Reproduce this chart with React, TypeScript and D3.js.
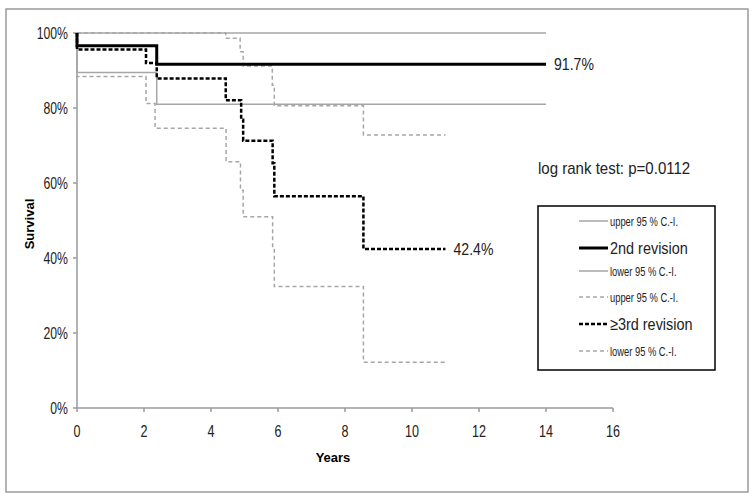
import React from "react";
import * as d3 from "d3";

const xTicks = [0, 2, 4, 6, 8, 10, 12, 14, 16];
const yTicks = [0, 20, 40, 60, 80, 100];

const rev2Times = [0, 2.38];
const rev2Surv = [96.6, 91.7];
const rev2End = 14;
const rev2UpperTimes = [0];
const rev2UpperSurv = [100];
const rev2LowerTimes = [0, 2.38];
const rev2LowerSurv = [89.5, 81.0];

const rev3Times = [0, 2.06, 2.38, 4.44, 4.9, 4.96, 5.84, 5.89, 8.55];
const rev3Surv = [95.6, 92.0, 87.9, 82.1, 76.9, 71.3, 65.3, 56.5, 42.4];
const rev3End = 11;
const rev3UpperTimes = [0, 4.44, 4.87, 4.96, 5.83, 5.89, 8.55];
const rev3UpperSurv = [100, 98.6, 95.0, 91.2, 86.1, 80.6, 72.8];
const rev3LowerTimes = [0, 2.06, 2.33, 4.45, 4.88, 4.96, 5.84, 5.89, 8.55];
const rev3LowerSurv = [88.4, 81.2, 74.6, 65.7, 58.1, 51.0, 42.6, 32.4, 12.2];

const legendLabels = [
  "upper 95 % C.-I.",
  "2nd revision",
  "lower 95 % C.-I.",
  "upper 95 % C.-I.",
  "\u22653rd revision",
  "lower 95 % C.-I.",
];

const sans = "'Liberation Sans', Arial, sans-serif";

function NText(props: {
  x: number;
  y: number;
  size: number;
  sx: number;
  anchor?: string;
  children: React.ReactNode;
}) {
  return (
    <text
      transform={`translate(${props.x},${props.y}) scale(${props.sx},1)`}
      dy="0.35em"
      textAnchor={props.anchor || "start"}
      fontSize={props.size}
      fontFamily={sans}
      fill="#222"
    >
      {props.children}
    </text>
  );
}

export default function App() {
  const x = d3.scaleLinear().domain([0, 16]).range([77, 613]);
  const y = d3.scaleLinear().domain([0, 100]).range([408, 33]);
  const line = d3
    .line<[number, number]>()
    .x((d) => x(d[0]))
    .y((d) => y(d[1]))
    .curve(d3.curveStepAfter);

  const km = (times: number[], surv: number[], end: number) => {
    const pts: [number, number][] = [[0, 100]];
    times.forEach((t, i) => pts.push([t, surv[i]]));
    pts.push([end, surv[surv.length - 1]]);
    return line(pts) || "";
  };

  const gray = "#a6a6a6";
  const series = [
    { d: km(rev2UpperTimes, rev2UpperSurv, rev2End), stroke: gray, w: 1.5, dash: "" },
    { d: km(rev2LowerTimes, rev2LowerSurv, rev2End), stroke: gray, w: 1.5, dash: "" },
    { d: km(rev3UpperTimes, rev3UpperSurv, rev3End), stroke: gray, w: 1.5, dash: "4,3" },
    { d: km(rev3LowerTimes, rev3LowerSurv, rev3End), stroke: gray, w: 1.5, dash: "4,3" },
    { d: km(rev2Times, rev2Surv, rev2End), stroke: "#000", w: 3, dash: "" },
    { d: km(rev3Times, rev3Surv, rev3End), stroke: "#000", w: 2.5, dash: "4,2" },
  ];

  const legendStyles = [
    { stroke: gray, w: 1.5, dash: "", size: 13, sx: 0.72 },
    { stroke: "#000", w: 3, dash: "", size: 17, sx: 0.85 },
    { stroke: gray, w: 1.5, dash: "", size: 13, sx: 0.72 },
    { stroke: gray, w: 1.5, dash: "4,3", size: 13, sx: 0.72 },
    { stroke: "#000", w: 2.5, dash: "4,2", size: 17, sx: 0.85 },
    { stroke: gray, w: 1.5, dash: "4,3", size: 13, sx: 0.72 },
  ];
  const legendY = [221, 248, 271, 297, 324, 351];

  return (
    <svg
      width={754}
      height={498}
      style={{ position: "absolute", left: 0, top: 0, background: "#fff" }}
    >
      <rect x={6} y={9} width={742} height={483} fill="#fff" stroke="#9a9a9a" strokeWidth={1.5} />
      {/* axes */}
      <line x1={x(0)} x2={x(0)} y1={y(100)} y2={y(0)} stroke="#9a9a9a" strokeWidth={1.5} />
      <line x1={x(0)} x2={x(16)} y1={y(0)} y2={y(0)} stroke="#9a9a9a" strokeWidth={1.5} />
      {yTicks.map((t) => (
        <g key={"y" + t}>
          <line x1={x(0) - 4} x2={x(0)} y1={y(t)} y2={y(t)} stroke="#9a9a9a" strokeWidth={1.5} />
          <NText x={x(0) - 9} y={y(t)} size={17} sx={0.72} anchor="end">
            {t}%
          </NText>
        </g>
      ))}
      {xTicks.map((t) => (
        <g key={"x" + t}>
          <line x1={x(t)} x2={x(t)} y1={y(0)} y2={y(0) + 4} stroke="#9a9a9a" strokeWidth={1.5} />
          <NText x={x(t)} y={y(0) + 23} size={17} sx={0.74} anchor="middle">
            {t}
          </NText>
        </g>
      ))}
      <text x={333} y={457} dy="0.35em" textAnchor="middle" fontSize={13} fontWeight="bold" fontFamily={sans}>
        Years
      </text>
      <text
        transform="translate(29,224) rotate(-90)"
        textAnchor="middle"
        dy="0.35em"
        fontSize={13}
        fontWeight="bold"
        fontFamily={sans}
      >
        Survival
      </text>

      {series.map((s, i) => (
        <path key={i} d={s.d} fill="none" stroke={s.stroke} strokeWidth={s.w} strokeDasharray={s.dash || undefined} />
      ))}

      <NText x={x(rev2End) + 8} y={y(rev2Surv[rev2Surv.length - 1])} size={16} sx={0.88}>
        91.7%
      </NText>
      <NText x={x(rev3End) + 8} y={y(rev3Surv[rev3Surv.length - 1])} size={16} sx={0.88}>
        42.4%
      </NText>

      <NText x={538} y={168} size={16} sx={0.94}>
        log rank test: p=0.0112
      </NText>

      <rect x={538} y={206} width={177} height={164} fill="#fff" stroke="#000" strokeWidth={1.5} />
      {legendLabels.map((l, i) => (
        <g key={"l" + i}>
          <line
            x1={579}
            x2={608}
            y1={legendY[i]}
            y2={legendY[i]}
            stroke={legendStyles[i].stroke}
            strokeWidth={legendStyles[i].w}
            strokeDasharray={legendStyles[i].dash || undefined}
          />
          <NText x={610} y={legendY[i]} size={legendStyles[i].size} sx={legendStyles[i].sx}>
            {l}
          </NText>
        </g>
      ))}
    </svg>
  );
}
